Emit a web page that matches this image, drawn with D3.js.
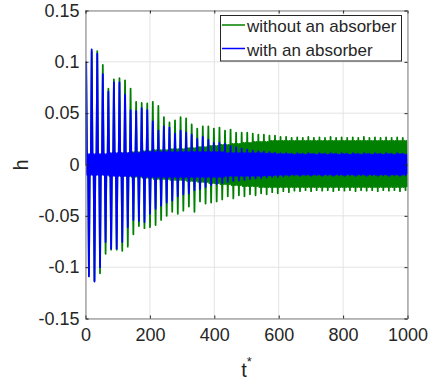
<!DOCTYPE html>
<html>
<head>
<meta charset="utf-8">
<script src="https://cdn.jsdelivr.net/npm/d3@7"></script>
<style>
  body { margin: 0; background: #fff; }
  text { font-family: "Liberation Sans", Arial, sans-serif; fill: #262626; }
</style>
</head>
<body>
<div id="chart"></div>
<script>
// axis ticks
const xTicks = [0, 200, 400, 600, 800, 1000];
const yTicks = [-0.15, -0.1, -0.05, 0, 0.05, 0.1, 0.15];
const seriesNames = ['without an absorber', 'with an absorber'];
const seriesColors = ['#008000', '#0000ff'];

// one oscillation cycle = 17.25 time units, first crest at t = 2
const cycleStart = 2;
const cyclePeriod = 17.25;

// without an absorber (green): crest, trough and inner band per cycle
const greenMax = [0.099, 0.110, 0.1105, 0.097, 0.074, 0.083, 0.084, 0.082, 0.074, 0.061,
  0.060, 0.0595, 0.061, 0.057, 0.046, 0.041, 0.043, 0.046, 0.045, 0.039,
  0.035, 0.037, 0.037, 0.035, 0.036, 0.033, 0.034, 0.031, 0.031, 0.031,
  0.030, 0.029, 0.029, 0.028, 0.028, 0.027, 0.027, 0.026, 0.0265, 0.026,
  0.027, 0.026, 0.0265, 0.026, 0.027, 0.026, 0.0265, 0.026, 0.0265, 0.026,
  0.027, 0.026, 0.0265, 0.026, 0.0265, 0.026, 0.0265, 0.026];
const greenMin = [-0.108, -0.113, -0.106, -0.087, -0.083, -0.083, -0.084, -0.080, -0.068, -0.060,
  -0.062, -0.061, -0.059, -0.054, -0.050, -0.046, -0.048, -0.045, -0.041, -0.046,
  -0.036, -0.038, -0.037, -0.036, -0.034, -0.031, -0.033, -0.030, -0.031, -0.029,
  -0.030, -0.028, -0.029, -0.027, -0.028, -0.026, -0.027, -0.0255, -0.026, -0.025,
  -0.026, -0.025, -0.0255, -0.025, -0.026, -0.025, -0.0255, -0.025, -0.026, -0.025,
  -0.0255, -0.025, -0.026, -0.025, -0.0255, -0.025, -0.026, -0.025];
const greenInHi = [0.008, 0.008, 0.009, 0.009, 0.010, 0.010, 0.011, 0.011, 0.012, 0.012,
  0.013, 0.013, 0.014, 0.014, 0.014, 0.015, 0.015, 0.015, 0.016, 0.016,
  0.017, 0.017, 0.018, 0.018, 0.019, 0.019, 0.020, 0.020, 0.021, 0.021,
  0.022, 0.022, 0.022, 0.023, 0.023, 0.023, 0.023, 0.023, 0.023, 0.023,
  0.023, 0.023, 0.023, 0.023, 0.023, 0.023, 0.023, 0.023, 0.023, 0.023,
  0.023, 0.023, 0.023, 0.023, 0.023, 0.023, 0.023, 0.023];
const greenInLo = [-0.008, -0.008, -0.009, -0.009, -0.010, -0.010, -0.011, -0.011, -0.012, -0.012,
  -0.013, -0.013, -0.014, -0.014, -0.014, -0.015, -0.015, -0.015, -0.016, -0.016,
  -0.017, -0.017, -0.018, -0.018, -0.019, -0.019, -0.020, -0.020, -0.021, -0.021,
  -0.021, -0.022, -0.022, -0.022, -0.022, -0.022, -0.022, -0.022, -0.022, -0.022,
  -0.022, -0.022, -0.022, -0.022, -0.022, -0.022, -0.022, -0.022, -0.022, -0.022,
  -0.022, -0.022, -0.022, -0.022, -0.022, -0.022, -0.022, -0.022];

// with an absorber (blue)
const blueMax = [0.100, 0.112, 0.108, 0.088, 0.071, 0.080, 0.080, 0.068, 0.053, 0.052,
  0.055, 0.053, 0.042, 0.033, 0.037, 0.036, 0.030, 0.033, 0.031, 0.029,
  0.025, 0.027, 0.024, 0.021, 0.021, 0.020, 0.018, 0.017, 0.0155, 0.0145,
  0.0135, 0.013, 0.0125, 0.012, 0.0115, 0.011, 0.011, 0.0105, 0.011, 0.0105,
  0.011, 0.0105, 0.011, 0.0105, 0.011, 0.0105, 0.011, 0.0105, 0.011, 0.0105,
  0.011, 0.0105, 0.011, 0.0105, 0.011, 0.0105, 0.011, 0.0105];
const blueMin = [-0.109, -0.114, -0.100, -0.0755, -0.082, -0.082, -0.0755, -0.061, -0.054, -0.055,
  -0.056, -0.048, -0.043, -0.040, -0.037, -0.035, -0.031, -0.029, -0.028, -0.025,
  -0.024, -0.022, -0.020, -0.019, -0.018, -0.017, -0.016, -0.0155, -0.015, -0.014,
  -0.0135, -0.013, -0.0125, -0.012, -0.012, -0.0115, -0.011, -0.0105, -0.011, -0.0105,
  -0.011, -0.0105, -0.011, -0.0105, -0.011, -0.0105, -0.011, -0.0105, -0.011, -0.0105,
  -0.011, -0.0105, -0.011, -0.0105, -0.011, -0.0105, -0.011, -0.0105];
const blueInHi = [0.010, 0.010, 0.010, 0.010, 0.011, 0.011, 0.011, 0.011, 0.011, 0.011,
  0.012, 0.012, 0.012, 0.012, 0.012, 0.012, 0.012, 0.012, 0.012, 0.012,
  0.012, 0.012, 0.012, 0.012, 0.012, 0.011, 0.011, 0.011, 0.011, 0.011,
  0.011, 0.011, 0.0105, 0.0105, 0.010, 0.010, 0.010, 0.0095, 0.010, 0.0095,
  0.010, 0.0095, 0.010, 0.0095, 0.010, 0.0095, 0.010, 0.0095, 0.010, 0.0095,
  0.010, 0.0095, 0.010, 0.0095, 0.010, 0.0095, 0.010, 0.0095];
const blueInLo = [-0.010, -0.010, -0.010, -0.010, -0.011, -0.011, -0.011, -0.011, -0.011, -0.011,
  -0.012, -0.012, -0.012, -0.012, -0.012, -0.012, -0.012, -0.012, -0.012, -0.012,
  -0.012, -0.012, -0.012, -0.012, -0.012, -0.011, -0.011, -0.011, -0.011, -0.011,
  -0.011, -0.011, -0.0105, -0.0105, -0.010, -0.010, -0.010, -0.0095, -0.010, -0.0095,
  -0.010, -0.0095, -0.010, -0.0095, -0.010, -0.0095, -0.010, -0.0095, -0.010, -0.0095,
  -0.010, -0.0095, -0.010, -0.0095, -0.010, -0.0095, -0.010, -0.0095];

// turn per-cycle extremes into a polyline: crest, inner low, inner high, trough, inner high, inner low
function cyclePoints(mx, mn, inHi, inLo) {
  const pts = [[0, 0]];
  mx.forEach((v, k) => {
    const t0 = cycleStart + k * cyclePeriod;
    const step = cyclePeriod / 6;
    pts.push([t0, v], [t0 + step, inLo[k]], [t0 + 2 * step, inHi[k]],
      [t0 + 3 * step, mn[k]], [t0 + 4 * step, inHi[k]], [t0 + 5 * step, inLo[k]]);
  });
  return pts;
}

const series = [
  cyclePoints(greenMax, greenMin, greenInHi, greenInLo),
  cyclePoints(blueMax, blueMin, blueInHi, blueInLo)
];

const W = 437, H = 385;
const margin = { top: 10.5, right: 29.5, bottom: 66.5, left: 85.5 };
const width = W - margin.left - margin.right;
const height = H - margin.top - margin.bottom;

const svg = d3.select('#chart').append('svg')
  .attr('width', W)
  .attr('height', H);

const g = svg.append('g')
  .attr('transform', `translate(${margin.left},${margin.top})`);

const x = d3.scaleLinear().domain([0, 1000]).range([0, width]);
const y = d3.scaleLinear().domain([-0.15, 0.15]).range([height, 0]);

// grid
g.append('g')
  .selectAll('line.gx')
  .data(xTicks)
  .enter().append('line')
  .attr('x1', d => x(d)).attr('x2', d => x(d))
  .attr('y1', 0).attr('y2', height)
  .attr('stroke', '#e3e3e3').attr('stroke-width', 1);
g.append('g')
  .selectAll('line.gy')
  .data(yTicks)
  .enter().append('line')
  .attr('x1', 0).attr('x2', width)
  .attr('y1', d => y(d)).attr('y2', d => y(d))
  .attr('stroke', '#e3e3e3').attr('stroke-width', 1);

g.append('clipPath').attr('id', 'clip')
  .append('rect').attr('width', width).attr('height', height);

const line = d3.line()
  .x(d => x(d[0]))
  .y(d => y(d[1]));

g.append('g').attr('clip-path', 'url(#clip)')
  .selectAll('path')
  .data(series)
  .enter().append('path')
  .attr('d', line)
  .attr('fill', 'none')
  .attr('stroke', (d, i) => seriesColors[i])
  .attr('stroke-width', 1.8)
  .attr('stroke-linejoin', 'round');

// axes (box on, ticks inside)
const fmt = d => String(+d.toFixed(2));

const xAxis = g.append('g')
  .attr('transform', `translate(0,${height})`)
  .call(d3.axisBottom(x).tickValues(xTicks).tickSize(-3).tickPadding(7).tickFormat(d3.format('d')));
const yAxis = g.append('g')
  .call(d3.axisLeft(y).tickValues(yTicks).tickSize(-3).tickPadding(6).tickFormat(fmt));
const xTop = g.append('g')
  .call(d3.axisTop(x).tickValues(xTicks).tickSize(-3).tickFormat(''));
const yRight = g.append('g')
  .attr('transform', `translate(${width},0)`)
  .call(d3.axisRight(y).tickValues(yTicks).tickSize(-3).tickFormat(''));

[xAxis, yAxis, xTop, yRight].forEach(a => {
  a.select('.domain').attr('stroke', '#808080').attr('stroke-width', 1);
  a.selectAll('.tick line').attr('stroke', '#262626');
  a.selectAll('.tick text')
    .attr('fill', '#262626')
    .style('font-family', '"Liberation Sans", Arial, sans-serif')
    .style('font-size', '18px');
});
xAxis.selectAll('.tick text').attr('dy', '0.85em');

// axis labels
svg.append('text')
  .attr('transform', 'translate(28,165) rotate(-90)')
  .attr('text-anchor', 'middle')
  .style('font-size', '20px')
  .text('h');

const xl = svg.append('text')
  .attr('x', margin.left + width / 2)
  .attr('y', 377)
  .attr('text-anchor', 'middle')
  .style('font-size', '20px');
xl.append('tspan').text('t');
xl.append('tspan').attr('dy', -11).style('font-size', '13px').text('*');

// legend
const legend = svg.append('g');
legend.append('rect')
  .attr('x', 220.5).attr('y', 15.5)
  .attr('width', 181).attr('height', 45.5)
  .attr('fill', '#fff').attr('stroke', '#262626').attr('stroke-width', 1);

const items = legend.selectAll('g.item')
  .data(seriesNames)
  .enter().append('g');
items.append('line')
  .attr('x1', 222).attr('x2', 245)
  .attr('y1', (d, i) => 25 + i * 23.5).attr('y2', (d, i) => 25 + i * 23.5)
  .attr('stroke', (d, i) => seriesColors[i]).attr('stroke-width', 1.5);
items.append('text')
  .attr('x', 247)
  .attr('y', (d, i) => 32 + i * 23.5)
  .style('font-size', '17px')
  .text(d => d);
</script>
</body>
</html>
